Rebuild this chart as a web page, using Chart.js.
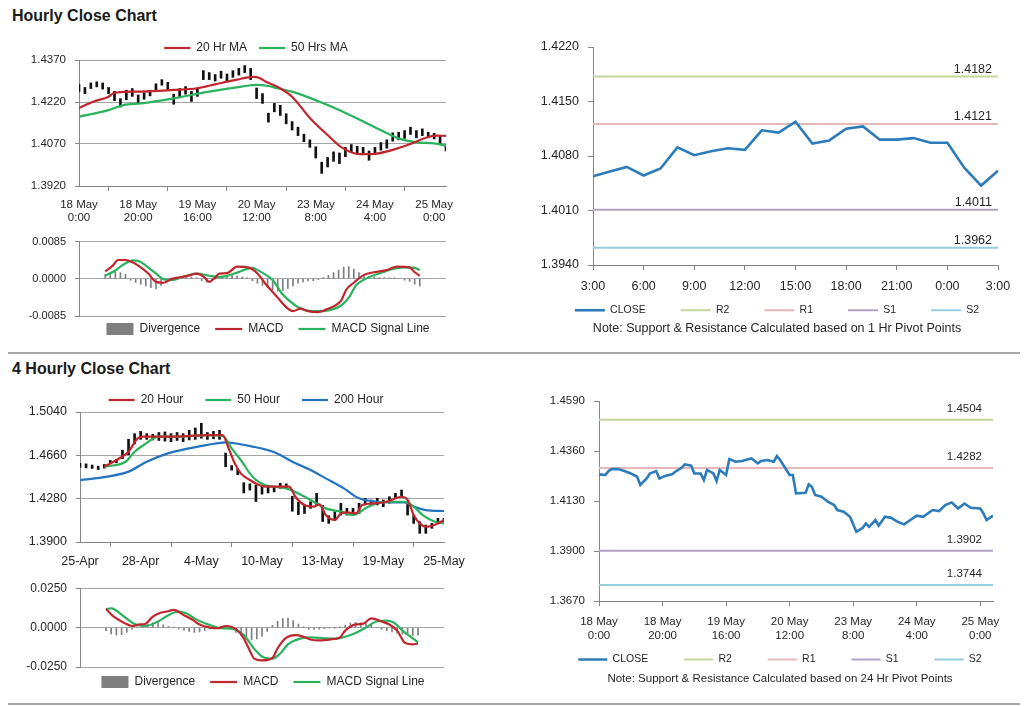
<!DOCTYPE html>
<html lang="en">
<head>
<meta charset="UTF-8">
<title>Hourly Close Chart</title>
<script src="https://cdn.jsdelivr.net/npm/chart.js"></script>
<style>
  body { margin: 0; width: 1024px; height: 706px; background: #fff; position: relative; overflow: hidden; font-family: "Liberation Sans", Arial, sans-serif; }
  .title { position: absolute; left: 12px; font-weight: bold; font-size: 16px; line-height: 16px; color: #1a1a1a; }
  .sep { position: absolute; left: 8px; width: 1012px; height: 2px; background: #a6a6a6; }
  .box { position: absolute; }
</style>
</head>
<body>
<div class="title" style="top:8px">Hourly Close Chart</div>
<div class="title" style="top:361px">4 Hourly Close Chart</div>
<div class="sep" style="top:352px"></div>
<div class="sep" style="top:703px"></div>

<div class="box" style="left:0;top:28px;width:512px;height:200px"><canvas id="hPrice"></canvas></div>
<div class="box" style="left:0;top:226px;width:536px;height:118px"><canvas id="hMacd"></canvas></div>
<div class="box" style="left:512px;top:28px;width:530px;height:309px"><canvas id="hPivot"></canvas></div>
<div class="box" style="left:0;top:378px;width:492px;height:194px"><canvas id="fPrice"></canvas></div>
<div class="box" style="left:0;top:572px;width:526px;height:123px"><canvas id="fMacd"></canvas></div>
<div class="box" style="left:512px;top:383px;width:536px;height:303px"><canvas id="dPivot"></canvas></div>

<script>
// ---------- hourly chart (hour index from 18 May 0:00) ----------
const hourTicks = [['18 May', '0:00'], ['18 May', '20:00'], ['19 May', '16:00'], ['20 May', '12:00'], ['23 May', '8:00'], ['24 May', '4:00'], ['25 May', '0:00']];

const hBarHours = [0, 2, 4, 6, 8, 10, 12, 14, 16, 18, 20, 22, 24, 26, 28, 30, 32, 34, 36, 38, 40, 42, 44, 46, 48, 50, 52, 54, 56, 58, 60, 62, 64, 66, 68, 70, 72, 74, 76, 78, 80, 82, 84, 86, 88, 90, 92, 94, 96, 98, 100, 102, 104, 106, 108, 110, 112, 114, 116, 118, 120, 122, 124];
const hLow = [1.4258, 1.4250, 1.4268, 1.4274, 1.4266, 1.4250, 1.4225, 1.4202, 1.4228, 1.4240, 1.4215, 1.4230, 1.4242, 1.4260, 1.4280, 1.4262, 1.4212, 1.4235, 1.4248, 1.4222, 1.4240, 1.4300, 1.4300, 1.4295, 1.4305, 1.4296, 1.4308, 1.4316, 1.4325, 1.4300, 1.4232, 1.4215, 1.4148, 1.4185, 1.4172, 1.4142, 1.4120, 1.4100, 1.4078, 1.4058, 1.4020, 1.3965, 1.3988, 1.4008, 1.4000, 1.4025, 1.4042, 1.4036, 1.4032, 1.4012, 1.4032, 1.4048, 1.4055, 1.4080, 1.4085, 1.4090, 1.4104, 1.4092, 1.4100, 1.4092, 1.4088, 1.4070, 1.4045];
const hHigh = [1.4282, 1.4272, 1.4288, 1.4292, 1.4288, 1.4272, 1.4258, 1.4232, 1.4262, 1.4268, 1.4245, 1.4252, 1.4262, 1.4285, 1.4300, 1.4290, 1.4248, 1.4268, 1.4275, 1.4258, 1.4270, 1.4332, 1.4325, 1.4318, 1.4330, 1.4320, 1.4332, 1.4340, 1.4350, 1.4340, 1.4270, 1.4250, 1.4180, 1.4215, 1.4208, 1.4178, 1.4150, 1.4130, 1.4105, 1.4085, 1.4060, 1.4005, 1.4022, 1.4042, 1.4038, 1.4058, 1.4068, 1.4062, 1.4058, 1.4045, 1.4058, 1.4075, 1.4085, 1.4110, 1.4112, 1.4118, 1.4130, 1.4118, 1.4124, 1.4112, 1.4108, 1.4098, 1.4068];

const hMa20Hours = [0, 5, 10, 12, 21, 32, 40, 46, 53, 59, 61, 63, 67, 72, 78, 84, 89, 95, 99, 106, 112, 118, 121, 124];
const hMa20 = [1.4199, 1.4222, 1.4239, 1.4253, 1.4257, 1.4263, 1.4269, 1.4283, 1.4299, 1.4310, 1.4306, 1.4293, 1.4275, 1.4239, 1.4163, 1.4102, 1.4056, 1.4034, 1.4034, 1.4049, 1.4070, 1.4095, 1.4100, 1.4099];
const hMa50Hours = [0, 10, 15, 21, 32, 44, 55, 60, 64, 67, 72, 84, 95, 103, 108, 114, 120, 124];
const hMa50 = [1.4168, 1.4191, 1.4209, 1.4215, 1.4233, 1.4257, 1.4275, 1.4281, 1.4277, 1.4269, 1.4257, 1.4209, 1.4156, 1.4114, 1.4090, 1.4076, 1.4072, 1.4064];

const hMacdHours = [0, 3, 5, 8, 11, 14, 17, 20, 23, 26, 30, 34, 36, 39, 41, 43, 45, 48, 52, 57, 60, 63, 68, 71, 74, 77, 80, 84, 87, 90, 93, 95, 98, 102, 106, 111, 115, 120, 122, 124];
const hMacd = [0.0017, 0.0030, 0.0043, 0.0043, 0.0037, 0.0026, 0.0012, -0.0007, -0.0009, -0.0001, 0.0004, 0.0009, 0.0012, 0.0004, -0.0007, 0.0001, 0.0012, 0.0013, 0.0028, 0.0025, 0.0012, -0.0010, -0.0043, -0.0063, -0.0074, -0.0068, -0.0074, -0.0076, -0.0070, -0.0063, -0.0050, -0.0025, -0.0009, 0.0009, 0.0015, 0.0020, 0.0028, 0.0026, 0.0015, 0.0007];
const hSignalHours = [0, 4, 7, 11, 13, 16, 20, 23, 26, 32, 36, 41, 45, 52, 58, 61, 66, 70, 75, 79, 84, 88, 93, 96, 99, 103, 108, 114, 119, 122, 124];
const hSignal = [0.0007, 0.0019, 0.0032, 0.0042, 0.0041, 0.0030, 0.0012, -0.0001, -0.0003, 0.0007, 0.0012, 0.0007, 0.0004, 0.0014, 0.0025, 0.0017, -0.0003, -0.0036, -0.0061, -0.0072, -0.0074, -0.0072, -0.0061, -0.0043, -0.0014, 0.0001, 0.0012, 0.0023, 0.0026, 0.0025, 0.0020];
const hDiv = [0.0010, 0.0013, 0.0015, 0.0014, 0.0010, -0.0003, -0.0008, -0.0012, -0.0016, -0.0020, -0.0023, -0.0015, -0.0005, 0.0002, 0.0004, 0.0004, 0.0005, 0.0004, 0.0002, -0.0004, -0.0008, -0.0005, 0.0003, 0.0006, 0.0007, 0.0008, 0.0006, 0.0004, 0.0002, -0.0004, -0.0010, -0.0015, -0.0020, -0.0025, -0.0028, -0.0027, -0.0022, -0.0016, -0.0010, -0.0007, -0.0005, -0.0004, -0.0002, 0.0003, 0.0008, 0.0014, 0.0020, 0.0027, 0.0028, 0.0022, 0.0014, 0.0008, 0.0005, 0.0004, 0.0003, 0.0003, 0.0002, 0.0002, 0.0001, -0.0003, -0.0006, -0.0012, -0.0017];

// ---------- 1 hr pivot chart (hour index from 3:00) ----------
const pTicks = ['3:00', '6:00', '9:00', '12:00', '15:00', '18:00', '21:00', '0:00', '3:00'];
const pHours = [0, 1, 2, 3, 4, 5, 6, 7, 8, 9, 10, 11, 12, 13, 14, 15, 16, 17, 18, 19, 20, 21, 22, 23, 24];
const pClose = [1.4054, 1.4060, 1.4066, 1.4055, 1.4064, 1.4091, 1.4081, 1.4086, 1.4090, 1.4088, 1.4113, 1.4110, 1.4124, 1.4096, 1.4100, 1.4115, 1.4118, 1.4101, 1.4101, 1.4103, 1.4097, 1.4097, 1.4065, 1.4042, 1.4061];
const pLevels = [1.4182, 1.4121, 1.4011, 1.3962]; // R2, R1, S1, S2

// ---------- 4 hourly chart (4h bar index from 25-Apr) ----------
const fTicks = ['25-Apr', '28-Apr', '4-May', '10-May', '13-May', '19-May', '25-May'];
const fBarHours = [0, 2, 4, 6, 8, 10, 12, 14, 16, 18, 20, 22, 24, 26, 28, 30, 32, 34, 36, 38, 40, 42, 44, 46, 48, 50, 52, 54, 56, 58, 60, 62, 64, 66, 68, 70, 72, 74, 76, 78, 80, 82, 84, 86, 88, 90, 92, 94, 96, 98, 100, 102, 104, 106, 108, 110, 112, 114, 116, 118, 120];
const fLow = [1.4555, 1.4550, 1.4545, 1.4535, 1.4548, 1.4585, 1.4595, 1.4630, 1.4665, 1.4760, 1.4800, 1.4800, 1.4795, 1.4790, 1.4785, 1.4780, 1.4790, 1.4780, 1.4795, 1.4800, 1.4810, 1.4800, 1.4805, 1.4800, 1.4560, 1.4530, 1.4490, 1.4330, 1.4355, 1.4255, 1.4320, 1.4330, 1.4340, 1.4370, 1.4370, 1.4170, 1.4140, 1.4150, 1.4195, 1.4225, 1.4080, 1.4063, 1.4105, 1.4136, 1.4136, 1.4136, 1.4150, 1.4225, 1.4225, 1.4225, 1.4210, 1.4240, 1.4283, 1.4297, 1.4136, 1.4063, 1.3976, 1.3976, 1.4020, 1.4063, 1.4078];
const fHigh = [1.4590, 1.4585, 1.4575, 1.4565, 1.4580, 1.4615, 1.4625, 1.4705, 1.4800, 1.4850, 1.4870, 1.4850, 1.4845, 1.4860, 1.4865, 1.4850, 1.4860, 1.4850, 1.4880, 1.4900, 1.4941, 1.4860, 1.4870, 1.4880, 1.4680, 1.4570, 1.4540, 1.4420, 1.4410, 1.4400, 1.4395, 1.4385, 1.4385, 1.4415, 1.4410, 1.4300, 1.4250, 1.4225, 1.4253, 1.4327, 1.4220, 1.4130, 1.4165, 1.4240, 1.4195, 1.4195, 1.4240, 1.4283, 1.4268, 1.4283, 1.4268, 1.4297, 1.4327, 1.4356, 1.4253, 1.4136, 1.4078, 1.4049, 1.4063, 1.4107, 1.4107];

const f20Hours = [8, 13, 16, 19, 21, 27, 31, 42, 47, 49, 51, 53, 56, 59, 61, 66, 69, 71, 74, 77, 79, 81, 84, 86, 88, 91, 93, 97, 101, 106, 108, 110, 112, 114, 118, 120];
const f20 = [1.4560, 1.4634, 1.4692, 1.4809, 1.4824, 1.4824, 1.4824, 1.4838, 1.4838, 1.4721, 1.4590, 1.4502, 1.4444, 1.4400, 1.4385, 1.4385, 1.4385, 1.4297, 1.4224, 1.4210, 1.4230, 1.4136, 1.4093, 1.4151, 1.4160, 1.4151, 1.4224, 1.4239, 1.4253, 1.4297, 1.4270, 1.4136, 1.4063, 1.4034, 1.4063, 1.4093];
const f50Hours = [8, 15, 18, 21, 26, 31, 37, 42, 47, 50, 53, 56, 58, 61, 64, 68, 73, 77, 81, 86, 90, 95, 99, 103, 107, 110, 113, 117, 120];
const f50 = [1.4560, 1.4604, 1.4692, 1.4751, 1.4824, 1.4824, 1.4830, 1.4838, 1.4830, 1.4721, 1.4619, 1.4502, 1.4444, 1.4400, 1.4385, 1.4370, 1.4312, 1.4253, 1.4195, 1.4166, 1.4136, 1.4210, 1.4248, 1.4253, 1.4253, 1.4210, 1.4136, 1.4078, 1.4063];
const f200Hours = [0, 9, 16, 22, 29, 36, 42, 48, 51, 57, 61, 65, 70, 76, 81, 87, 92, 98, 103, 107, 110, 114, 120];
const f200 = [1.4443, 1.4473, 1.4517, 1.4604, 1.4677, 1.4721, 1.4751, 1.4774, 1.4766, 1.4736, 1.4712, 1.4677, 1.4604, 1.4531, 1.4458, 1.4370, 1.4283, 1.4253, 1.4248, 1.4248, 1.4210, 1.4180, 1.4172];

const fMacdHours = [0, 3, 7, 10, 13, 15, 18, 21, 24, 26, 30, 33, 36, 40, 43, 46, 50, 53, 55, 57, 60, 64, 66, 69, 73, 76, 79, 82, 87, 90, 92, 96, 99, 102, 106, 109, 112, 115, 118, 120];
const fMacd = [0.0118, 0.0069, 0.0030, 0.0010, 0.0020, 0.0023, 0.0069, 0.0094, 0.0104, 0.0112, 0.0079, 0.0053, 0.0020, 0.0000, -0.0004, 0.0010, -0.0010, -0.0068, -0.0135, -0.0197, -0.0208, -0.0193, -0.0131, -0.0068, -0.0048, -0.0058, -0.0077, -0.0081, -0.0073, -0.0062, -0.0019, 0.0020, 0.0025, 0.0059, 0.0039, 0.0020, -0.0019, -0.0097, -0.0106, -0.0100];
const fSignalHours = [0, 2, 7, 11, 15, 20, 24, 28, 31, 35, 40, 44, 48, 53, 57, 60, 64, 67, 70, 75, 79, 84, 88, 92, 96, 100, 104, 108, 111, 114, 118, 120];
const fSignal = [0.0118, 0.0122, 0.0069, 0.0023, 0.0010, 0.0039, 0.0079, 0.0102, 0.0089, 0.0049, 0.0016, -0.0004, -0.0006, -0.0048, -0.0135, -0.0183, -0.0197, -0.0164, -0.0106, -0.0068, -0.0062, -0.0068, -0.0071, -0.0058, -0.0035, 0.0000, 0.0039, 0.0044, 0.0029, -0.0019, -0.0068, -0.0093];
const fDiv = [-0.0020, -0.0040, -0.0048, -0.0045, -0.0030, -0.0010, 0.0005, 0.0012, 0.0022, 0.0030, 0.0030, 0.0018, 0.0008, 0.0004, -0.0008, -0.0018, -0.0025, -0.0030, -0.0028, -0.0020, -0.0008, 0.0000, 0.0003, 0.0002, -0.0010, -0.0030, -0.0050, -0.0068, -0.0077, -0.0072, -0.0055, -0.0025, 0.0015, 0.0040, 0.0058, 0.0060, 0.0045, 0.0022, 0.0005, -0.0010, -0.0012, -0.0010, -0.0006, -0.0004, -0.0002, 0.0005, 0.0015, 0.0028, 0.0033, 0.0030, 0.0025, 0.0015, 0.0000, -0.0010, -0.0020, -0.0028, -0.0035, -0.0042, -0.0048, -0.0050, -0.0048];

// ---------- 24 hr pivot chart (hour index from 18 May 0:00) ----------
const dHours = [0, 2, 3, 4, 6, 8, 10, 12, 13, 15, 16, 18, 19, 21, 23, 24, 26, 27, 29, 30, 32, 33, 34, 36, 37, 38, 40, 41, 43, 45, 47, 48, 50, 51, 53, 55, 56, 57, 59, 60, 61, 62, 65, 66, 67, 68, 70, 72, 74, 75, 77, 79, 81, 83, 84, 85, 87, 88, 90, 92, 94, 96, 98, 100, 102, 105, 107, 109, 111, 113, 115, 117, 120, 121, 122, 124];
const dClose = [1.4253, 1.4250, 1.4268, 1.4277, 1.4277, 1.4268, 1.4257, 1.4242, 1.4204, 1.4234, 1.4257, 1.4268, 1.4234, 1.4247, 1.4253, 1.4265, 1.4283, 1.4299, 1.4293, 1.4257, 1.4257, 1.4227, 1.4273, 1.4257, 1.4222, 1.4273, 1.4250, 1.4323, 1.4311, 1.4314, 1.4322, 1.4326, 1.4303, 1.4314, 1.4319, 1.4311, 1.4337, 1.4319, 1.4273, 1.4250, 1.4250, 1.4165, 1.4168, 1.4207, 1.4196, 1.4158, 1.4150, 1.4127, 1.4112, 1.4089, 1.4081, 1.4058, 1.3989, 1.4007, 1.4027, 1.4012, 1.4043, 1.4017, 1.4058, 1.4053, 1.4035, 1.4023, 1.4043, 1.4063, 1.4058, 1.4089, 1.4084, 1.4112, 1.4124, 1.4096, 1.4119, 1.4099, 1.4096, 1.4073, 1.4043, 1.4063];
const dLevels = [1.4504, 1.4282, 1.3902, 1.3744]; // R2, R1, S1, S2

const levelNames = ['R2', 'R1', 'S1', 'S2'];

// ---------- styles ----------
const RED = '#c0262d', GREEN = '#2ab35c', BLUE = '#2273c0', CLOSE = '#2c7bba', GREY_BAR = '#7f7f7f';
const LEVEL_COLORS = ['#c3d69b', '#e6b9b8', '#b3a2c7', '#93cddd'];
const GRID = '#a6a6a6', AXIS = '#868686', TEXT = '#262626';

Chart.defaults.font.family = '"Liberation Sans", Arial, sans-serif';
Chart.defaults.color = TEXT;
Chart.defaults.animation = false;
Chart.defaults.plugins.tooltip.enabled = false;
Chart.defaults.elements.point.radius = 0;

const pts = (xs, ys) => xs.map((x, i) => ({ x, y: ys[i] }));
const range = (xs, lo, hi) => xs.map((x, i) => ({ x, y: [lo[i], hi[i]] }));

// legend samples: lines for line series, a flat box for the divergence bars
function sampleLabels(chart) {
  const items = Chart.defaults.plugins.legend.labels.generateLabels(chart);
  items.forEach(it => {
    const ds = chart.data.datasets[it.datasetIndex];
    if (ds.type === 'bar') {
      it.pointStyle = 'rect'; it.lineWidth = 0; it.fillStyle = ds.backgroundColor;
    } else {
      it.pointStyle = 'line'; it.lineWidth = ds.borderWidth; it.strokeStyle = ds.borderColor;
    }
  });
  return items;
}

function legend(position, size, sample, pad, extra) {
  return Object.assign({
    position,
    labels: {
      usePointStyle: true, pointStyleWidth: sample, padding: pad, font: { size }, color: TEXT,
      generateLabels: sampleLabels,
      filter: (item, data) => !data.datasets[item.datasetIndex].noLegend,
      sort: (a, b) => a.datasetIndex - b.datasetIndex
    }
  }, extra || {});
}

// moves the legend's drawing origin without changing the plot area
const legendNudge = {
  id: 'legendNudge',
  afterLayout(chart, args, opts) {
    const lg = chart.legend;
    if (lg && opts.dy) { lg.top += opts.dy; lg.height -= opts.dy; }
  }
};

// value labels above the pivot lines
const levelLabels = {
  id: 'levelLabels',
  afterDatasetsDraw(chart, args, opts) {
    const { ctx, chartArea, scales } = chart;
    ctx.save();
    ctx.font = opts.size + 'px ' + Chart.defaults.font.family;
    ctx.fillStyle = TEXT;
    ctx.textAlign = 'right';
    ctx.textBaseline = 'alphabetic';
    chart.data.datasets.forEach(ds => {
      if (ds.level === undefined) return;
      ctx.fillText(ds.level.toFixed(4), chartArea.right - opts.inset, scales.y.getPixelForValue(ds.level) - opts.gap);
    });
    ctx.restore();
  }
};

function yAxis(min, max, step, size, width, gridOn, tick) {
  return {
    type: 'linear', min, max,
    afterFit: s => { s.width = width; },
    ticks: { stepSize: step, font: { size }, padding: 9, callback: v => v.toFixed(4) },
    grid: { color: GRID, drawOnChartArea: gridOn, tickLength: tick, tickColor: AXIS },
    border: { color: AXIS }
  };
}

function xAxis(max, step, labels, size, pad, height, lineHeight) {
  return {
    type: 'linear', min: 0, max, offset: false,
    afterFit: s => { s.height = height; },
    ticks: { stepSize: step, includeBounds: false, autoSkip: false, maxRotation: 0, padding: pad,
             font: { size, lineHeight }, callback: v => labels[v / step] },
    grid: { drawOnChartArea: false, tickLength: 5, color: AXIS },
    border: { color: AXIS }
  };
}

function hiddenX(max) {
  return { type: 'linear', min: 0, max, display: false };
}

// empty space on the right of the plot, so the legend can be wider than the plot
function spacer(width) {
  return { type: 'linear', position: 'right', afterFit: s => { s.width = width; },
           ticks: { display: false }, grid: { display: false }, border: { display: false } };
}

function line(label, data, color, width, smooth) {
  return { label, data, borderColor: color, backgroundColor: color, borderWidth: width,
           tension: smooth ? 0.4 : 0, cubicInterpolationMode: smooth ? 'monotone' : 'default', order: 0 };
}

function levelSets(levels, xs) {
  return levels.map((v, i) => Object.assign(
    line(levelNames[i], [{ x: xs[0], y: v }, { x: xs[xs.length - 1], y: v }], LEVEL_COLORS[i], 2, false),
    { level: v }));
}

// ---------- hourly price ----------
new Chart(document.getElementById('hPrice'), {
  type: 'line',
  data: { datasets: [
    { type: 'bar', label: 'Price', data: range(hBarHours, hLow, hHigh), backgroundColor: '#111', barThickness: 2, order: 1, noLegend: true },
    line('20 Hr MA', pts(hMa20Hours, hMa20), RED, 2.2, true),
    line('50 Hrs MA', pts(hMa50Hours, hMa50), GREEN, 2.2, true)
  ] },
  plugins: [legendNudge],
  options: {
    responsive: true, maintainAspectRatio: false,
    layout: { padding: { top: 0, bottom: 0 } },
    plugins: { legend: legend('top', 12, 26, 12, { maxHeight: 32 }), legendNudge: { dy: 2 } },
    scales: {
      x: xAxis(124, 20, hourTicks, 11.5, 8, 42, 1.1),
      y: yAxis(1.392, 1.437, 0.015, 11.5, 79, true, 4),
      spacer: spacer(66)
    }
  }
});

// ---------- hourly MACD ----------
new Chart(document.getElementById('hMacd'), {
  type: 'line',
  data: { datasets: [
    { type: 'bar', label: 'Divergence', data: pts(hBarHours, hDiv), backgroundColor: GREY_BAR, barThickness: 1, order: 1 },
    line('MACD', pts(hMacdHours, hMacd), RED, 2.2, true),
    line('MACD Signal Line', pts(hSignalHours, hSignal), GREEN, 2.2, true)
  ] },
  plugins: [legendNudge],
  options: {
    responsive: true, maintainAspectRatio: false,
    layout: { padding: { top: 12, bottom: 0 } },
    plugins: {
      legend: legend('bottom', 12, 27, 15, { maxHeight: 28 }),
      legendNudge: { dy: -8 }
    },
    scales: {
      x: hiddenX(124),
      y: yAxis(-0.0085, 0.0085, 0.0085, 11, 79, true, 4),
      spacer: spacer(90)
    }
  }
});

// ---------- 1 hr pivot ----------
new Chart(document.getElementById('hPivot'), {
  type: 'line',
  data: { datasets: [line('CLOSE', pts(pHours, pClose), CLOSE, 2.6, false)].concat(levelSets(pLevels, pHours)) },
  plugins: [legendNudge, levelLabels],
  options: {
    responsive: true, maintainAspectRatio: false,
    layout: { padding: { top: 19, bottom: 0 } },
    plugins: {
      legend: legend('bottom', 10.5, 30, 35, { maxHeight: 22 }),
      legendNudge: { dy: -28 },
      subtitle: { display: true, position: 'bottom', text: 'Note: Support & Resistance Calculated based on 1 Hr Pivot Points',
                  font: { size: 12.5 }, color: TEXT, padding: { top: 1.5, bottom: 0.5 } },
      levelLabels: { size: 12.5, inset: 6, gap: 4 }
    },
    scales: {
      x: xAxis(24, 3, pTicks, 12.5, 9, 33, 1.2),
      y: yAxis(1.394, 1.422, 0.007, 12.5, 81, false, 5),
      spacer: spacer(44)
    }
  }
});

// ---------- 4 hourly price ----------
new Chart(document.getElementById('fPrice'), {
  type: 'line',
  data: { datasets: [
    { type: 'bar', label: 'Price', data: range(fBarHours, fLow, fHigh), backgroundColor: '#111', barThickness: 2, order: 1, noLegend: true },
    line('20 Hour', pts(f20Hours, f20), RED, 2.2, true),
    line('50 Hour', pts(f50Hours, f50), GREEN, 2.2, true),
    line('200 Hour', pts(f200Hours, f200), BLUE, 2.2, true)
  ] },
  plugins: [legendNudge],
  options: {
    responsive: true, maintainAspectRatio: false,
    layout: { padding: { top: 0, bottom: 0 } },
    plugins: { legend: legend('top', 12, 26, 22, { maxHeight: 34 }), legendNudge: { dy: -6 } },
    scales: {
      x: xAxis(120, 20, fTicks, 12.5, 7.5, 30, 1.2),
      y: yAxis(1.39, 1.504, 0.038, 12.5, 80, true, 4),
      spacer: spacer(48)
    }
  }
});

// ---------- 4 hourly MACD ----------
new Chart(document.getElementById('fMacd'), {
  type: 'line',
  data: { datasets: [
    { type: 'bar', label: 'Divergence', data: pts(fBarHours, fDiv), backgroundColor: GREY_BAR, barThickness: 1, order: 1 },
    line('MACD', pts(fMacdHours, fMacd), RED, 2.2, true),
    line('MACD Signal Line', pts(fSignalHours, fSignal), GREEN, 2.2, true)
  ] },
  plugins: [legendNudge],
  options: {
    responsive: true, maintainAspectRatio: false,
    layout: { padding: { top: 9, bottom: 0 } },
    plugins: { legend: legend('bottom', 12, 27, 15, { maxHeight: 28 }), legendNudge: { dy: -6 } },
    scales: {
      x: hiddenX(120),
      y: yAxis(-0.025, 0.025, 0.025, 12, 80, true, 4),
      spacer: spacer(82)
    }
  }
});

// ---------- 24 hr pivot ----------
new Chart(document.getElementById('dPivot'), {
  type: 'line',
  data: { datasets: [line('CLOSE', pts(dHours, dClose), CLOSE, 2.6, false)].concat(levelSets(dLevels, dHours)) },
  plugins: [legendNudge, levelLabels],
  options: {
    responsive: true, maintainAspectRatio: false,
    layout: { padding: { top: 18, bottom: 0 } },
    plugins: {
      legend: legend('bottom', 10.5, 29, 36, { maxHeight: 22 }),
      legendNudge: { dy: -29 },
      subtitle: { display: true, position: 'bottom', text: 'Note: Support & Resistance Calculated based on 24 Hr Pivot Points',
                  font: { size: 11.5 }, color: TEXT, padding: { top: 3, bottom: 0 } },
      levelLabels: { size: 11.5, inset: 11, gap: 8 }
    },
    scales: {
      x: xAxis(124, 20, hourTicks, 11.5, 9, 46, 1.2),
      y: yAxis(1.367, 1.459, 0.023, 11.5, 87, false, 5),
      spacer: spacer(55)
    }
  }
});
</script>
</body>
</html>
